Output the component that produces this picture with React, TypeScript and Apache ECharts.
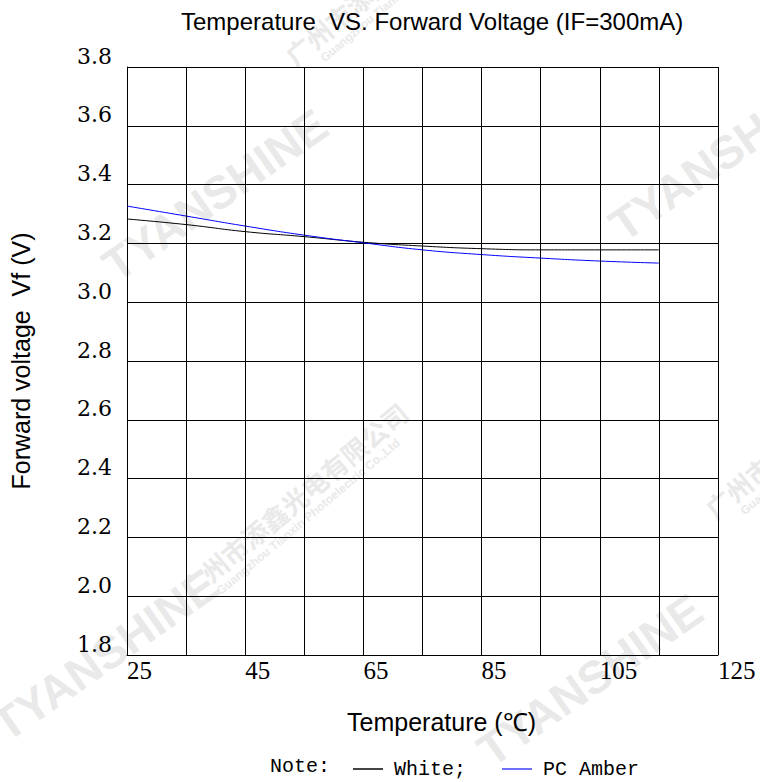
import React, { useEffect, useRef } from "react";
import * as echarts from "echarts";

// ---- data ----
const temps = [25, 35, 45, 55, 65, 75, 85, 95, 105, 115];
const whiteVf = [3.283, 3.264, 3.24, 3.223, 3.204, 3.191, 3.182, 3.178, 3.178, 3.178];
const amberVf = [3.327, 3.293, 3.259, 3.228, 3.202, 3.178, 3.162, 3.15, 3.14, 3.133];
const xLabelTemps = [25, 45, 65, 85, 105, 125];
const xGridTemps = [35, 45, 55, 65, 75, 85, 95, 105, 115, 125];
const seriesNames = ["White", "PC Amber"];

const WM = "#e9e9e9";

function wmText(text: string, x: number, y: number, deg: number, size: number, weight = "bold") {
  return {
    type: "text",
    x,
    y,
    rotation: (deg * Math.PI) / 180,
    z: -10,
    silent: true,
    style: {
      text,
      fill: WM,
      font: `${weight} ${size}px "Liberation Sans", Arial, sans-serif`,
      align: "center",
      verticalAlign: "middle",
    },
  };
}

function wmCompany(x: number, y: number, deg: number) {
  const r = (deg * Math.PI) / 180;
  const ox = Math.sin(r) * 22;
  const oy = Math.cos(r) * 22;
  return [
    {
      type: "text",
      x,
      y,
      rotation: r,
      z: -10,
      silent: true,
      style: {
        text: "广州市添鑫光电有限公司",
        fill: WM,
        font: `bold 26px "Noto Sans CJK SC", sans-serif`,
        align: "center",
        verticalAlign: "middle",
      },
    },
    {
      type: "text",
      x: x + ox,
      y: y + oy,
      rotation: r,
      z: -10,
      silent: true,
      style: {
        text: "Guangzhou Tianxin Photoelectric Co.,Ltd",
        fill: WM,
        font: `bold 12px "Liberation Sans", Arial, sans-serif`,
        align: "center",
        verticalAlign: "middle",
      },
    },
  ];
}

export default function App() {
  const ref = useRef<HTMLDivElement>(null);
  useEffect(() => {
    if (!ref.current) return;
    const chart = echarts.init(ref.current, undefined, { renderer: "svg" });
    const serif = '"Liberation Serif", "Times New Roman", serif';
    const dserif = '"DejaVu Serif", "Liberation Serif", serif';
    const sans = '"Liberation Sans", Arial, sans-serif';
    const mono = '"Liberation Mono", "Courier New", monospace';
    chart.setOption({
      animation: false,
      backgroundColor: "#fff",
      title: {
        text: "Temperature  VS. Forward Voltage (IF=300mA)",
        left: 176,
        top: 4,
        textStyle: { fontFamily: sans, fontSize: 24, fontWeight: "normal", color: "#000" },
      },
      grid: { left: 127, right: 42, top: 67, bottom: 127, containLabel: false, outerBoundsMode: "none" },
      legend: {
        left: 348,
        top: 754,
        icon: "rect",
        itemWidth: 30,
        itemHeight: 2,
        itemGap: 36,
        data: [
          { name: seriesNames[0], itemStyle: { color: "#444" } },
          { name: seriesNames[1], itemStyle: { color: "#7070ff" } },
        ],
        formatter: (n: string) => (n === "White" ? "White;" : n),
        textStyle: { fontFamily: mono, fontSize: 20, color: "#000", padding: [0, 0, 0, 6] },
      },
      xAxis: {
        type: "value",
        min: 25,
        max: 125,
        name: "Temperature (℃)",
        nameLocation: "middle",
        nameGap: 54,
        nameTextStyle: { fontFamily: sans, fontSize: 25, color: "#000", padding: [0, 0, 0, 38] },
        axisLine: { show: true, lineStyle: { color: "#000", width: 1 } },
        axisTick: { show: false },
        splitLine: { show: false },
        axisLabel: {
          customValues: xLabelTemps,
          align: "left",
          margin: 3,
          fontFamily: serif,
          fontSize: 25,
          color: "#000",
        },
      },
      yAxis: {
        type: "value",
        min: 1.8,
        max: 3.8,
        interval: 0.2,
        name: "Forward voltage  Vf (V)",
        nameLocation: "middle",
        nameGap: 86,
        nameRotate: 90,
        nameTextStyle: { fontFamily: sans, fontSize: 25, color: "#000", padding: [0, 0, 8, 0] },
        axisLine: { show: true, lineStyle: { color: "#000", width: 1 } },
        axisTick: { show: false },
        splitLine: { show: true, lineStyle: { color: "#000", width: 1 } },
        axisLabel: {
          formatter: (v: number) => v.toFixed(1),
          verticalAlign: "bottom",
          margin: 15,
          fontFamily: dserif,
          fontSize: 22,
          color: "#000",
        },
      },
      series: [
        {
          name: seriesNames[0],
          type: "line",
          data: temps.map((t, i) => [t, whiteVf[i]]),
          showSymbol: false,
          smooth: true,
          lineStyle: { color: "#000", width: 1 },
          itemStyle: { color: "#000" },
          markLine: {
            silent: true,
            symbol: "none",
            label: { show: false },
            lineStyle: { color: "#000", type: "solid", width: 1 },
            data: xGridTemps.map((t) => ({ xAxis: t })),
          },
        },
        {
          name: seriesNames[1],
          type: "line",
          data: temps.map((t, i) => [t, amberVf[i]]),
          showSymbol: false,
          smooth: true,
          lineStyle: { color: "#0000ff", width: 1 },
          itemStyle: { color: "#0000ff" },
        },
      ],
      graphic: [
        wmText("TYANSHINE", 215, 195, 35, 46),
        wmText("TYANSHINE", 722, 155, 35, 46),
        wmText("TYANSHINE", 105, 655, 35, 46),
        wmText("TYANSHINE", 590, 680, 35, 46),
        ...wmCompany(294, 500, 40),
        ...wmCompany(398, -33, 40),
        ...wmCompany(818, 420, 40),
        {
          type: "text",
          x: 270,
          y: 766,
          style: {
            text: "Note:",
            fill: "#000",
            font: `20px ${mono}`,
            verticalAlign: "middle",
          },
        },
      ],
    });
    return () => chart.dispose();
  }, []);
  return (
    <div
      ref={ref}
      style={{ position: "fixed", left: 0, top: 0, width: 760, height: 782 }}
    />
  );
}
